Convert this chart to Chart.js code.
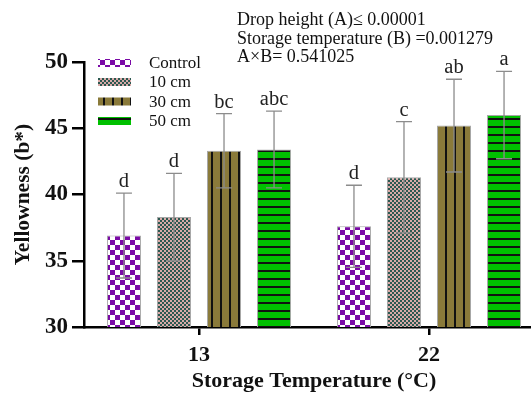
<!DOCTYPE html>
<html>
<head>
    <title>Yellowness</title>
    <script src="https://cdn.jsdelivr.net/npm/chart.js"></script>
    <style>
        body { margin: 0; overflow: hidden; background: #fff; }
        #wrap { position: relative; width: 531px; height: 398px; overflow: hidden; }
        #stats { position: absolute; left: 237px; top: 10px; font: 18px "Liberation Serif", serif; line-height: 18.5px; color: #111; white-space: nowrap; }
    </style>
</head>
<body>
<div id="wrap">
    <canvas id="chart" width="552" height="398"></canvas>
    <div id="stats">
        Drop height (A)≤ 0.00001<br>
        Storage temperature (B) =0.001279<br>
        A×B= 0.541025
    </div>
</div>

<script>
// data
const categories = ['13', '22'];
const seriesNames = ['Control', '10 cm', '30 cm', '50 cm'];

const control = [36.9, 37.6];
const cm10 = [38.3, 41.3];
const cm30 = [43.3, 45.2];
const cm50 = [43.4, 46.0];

const controlSd = [3.2, 3.1];
const cm10Sd = [3.3, 4.2];
const cm30Sd = [2.8, 3.5];
const cm50Sd = [2.9, 3.3];

const controlLetters = ['d', 'd'];
const cm10Letters = ['d', 'c'];
const cm30Letters = ['bc', 'ab'];
const cm50Letters = ['abc', 'a'];

const yTicks = [30, 35, 40, 45, 50];

const serif = '"Liberation Serif", "Times New Roman", serif';
const ctx = document.getElementById('chart').getContext('2d');

function makePattern(w, h, draw) {
    const c = document.createElement('canvas');
    c.width = w; c.height = h;
    draw(c.getContext('2d'));
    return ctx.createPattern(c, 'repeat');
}

// fill patterns for each drop height
const patControl = makePattern(10, 10, g => {
    g.fillStyle = '#fff'; g.fillRect(0, 0, 10, 10);
    g.fillStyle = '#7a0aa6';
    g.fillRect(0, 0, 5, 5); g.fillRect(5, 5, 5, 5);
});
const pat10 = makePattern(4, 4, g => {
    g.fillStyle = '#d8aaa8'; g.fillRect(0, 0, 4, 4);
    g.fillStyle = '#2c5850';
    g.fillRect(0, 0, 2, 2); g.fillRect(2, 2, 2, 2);
});
const pat30 = makePattern(9, 1, g => {
    g.fillStyle = '#8a7a3a'; g.fillRect(0, 0, 9, 1);
    g.fillStyle = '#111'; g.fillRect(4, 0, 2, 1);
});
const pat50 = makePattern(1, 8, g => {
    g.fillStyle = '#00c000'; g.fillRect(0, 0, 1, 8);
    g.fillStyle = '#111'; g.fillRect(0, 6, 1, 2);
});

const fills = [patControl, pat10, pat30, pat50];
const values = [control, cm10, cm30, cm50];
const sds = [controlSd, cm10Sd, cm30Sd, cm50Sd];
const letters = [controlLetters, cm10Letters, cm30Letters, cm50Letters];

// error bars and significance letters
const errorBars = {
    id: 'errorBars',
    afterDatasetsDraw(chart) {
        const y = chart.scales.y;
        const c = chart.ctx;
        c.save();
        chart.data.datasets.forEach((ds, i) => {
            const meta = chart.getDatasetMeta(i);
            meta.data.forEach((bar, j) => {
                const v = ds.data[j], sd = sds[i][j];
                const top = y.getPixelForValue(v + sd);
                const bot = y.getPixelForValue(v - sd);
                c.strokeStyle = '#8c8c8c';
                c.lineWidth = 1.3;
                c.beginPath();
                c.moveTo(bar.x, top); c.lineTo(bar.x, bot);
                c.moveTo(bar.x - 8, top); c.lineTo(bar.x + 8, top);
                c.moveTo(bar.x - 8, bot); c.lineTo(bar.x + 8, bot);
                c.stroke();
                c.fillStyle = '#222';
                c.font = '20.5px ' + serif;
                c.textAlign = 'center';
                c.textBaseline = 'alphabetic';
                c.fillText(letters[i][j], bar.x, top - 6);
            });
        });
        c.restore();
    }
};

// legend drawn in the upper left of the plot
const legendBox = {
    id: 'legendBox',
    afterDraw(chart) {
        const c = chart.ctx;
        const rows = [63, 82, 101.5, 121];
        c.save();
        chart.data.datasets.forEach((ds, i) => {
            c.fillStyle = ds.backgroundColor;
            c.fillRect(98, rows[i] - 4, 33, 8);
            c.fillStyle = '#111';
            c.font = '17px ' + serif;
            c.textAlign = 'left';
            c.textBaseline = 'middle';
            c.fillText(seriesNames[i], 149, rows[i] + 1);
        });
        c.restore();
    }
};

new Chart(ctx, {
    type: 'bar',
    data: {
        labels: categories,
        datasets: seriesNames.map((name, i) => ({
            label: name,
            data: values[i],
            backgroundColor: fills[i],
            borderColor: '#a8a8a8',
            borderWidth: 1,
            categoryPercentage: 0.87,
            barPercentage: 0.68
        }))
    },
    options: {
        responsive: false,
        animation: false,
        devicePixelRatio: 1,
        layout: { padding: { top: 62, right: 8, left: 0, bottom: 0 } },
        plugins: {
            legend: { display: false },
            tooltip: { enabled: false }
        },
        scales: {
            x: {
                afterFit: s => { s.height = 71; },
                border: { color: '#000', width: 2.5 },
                grid: { drawOnChartArea: false, offset: false, color: '#000', lineWidth: 2.5, tickLength: 8 },
                ticks: { color: '#111', padding: 7, font: { family: serif, size: 22, weight: 'bold' } },
                title: {
                    display: true,
                    text: 'Storage Temperature (°C)',
                    color: '#111',
                    padding: { top: 0, bottom: 3 },
                    font: { family: serif, size: 22, weight: 'bold' }
                }
            },
            y: {
                min: 30,
                max: 50,
                afterFit: s => { s.width = 84; },
                afterBuildTicks: s => { s.ticks = yTicks.map(v => ({ value: v })); },
                border: { color: '#000', width: 2.5 },
                grid: { drawOnChartArea: false, color: '#000', lineWidth: 2.5, tickLength: 12 },
                ticks: { color: '#111', padding: 4, font: { family: serif, size: 23, weight: 'bold' } },
                title: {
                    display: true,
                    text: 'Yellowness (b*)',
                    color: '#111',
                    padding: { top: 11, bottom: 0 },
                    font: { family: serif, size: 21.5, weight: 'bold' }
                }
            }
        }
    },
    plugins: [errorBars, legendBox]
});
</script>
</body>
</html>
